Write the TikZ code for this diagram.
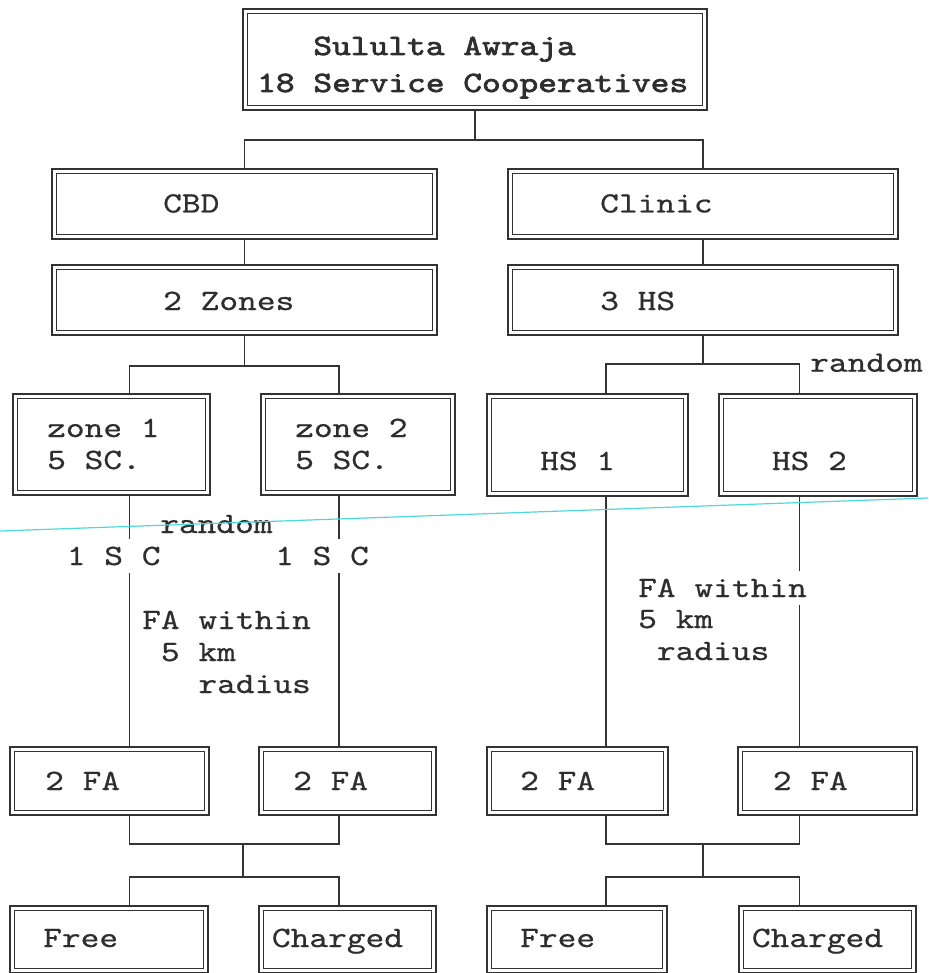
\documentclass[tikz,border=0pt]{standalone}
\usepackage{fontspec}
\newfontfamily\typer[FakeStretch=1.21,FakeBold=0.6]{lmmono10-regular.otf}
\newfontfamily\typerbold[FakeStretch=1.21,FakeBold=2.4]{lmmono10-regular.otf}
\definecolor{SCink}{HTML}{2E2E2E}
\definecolor{SCline}{HTML}{333333}
\definecolor{SCscan}{HTML}{4FD8DC}

\begin{document}
\begin{tikzpicture}[
  x=1pt,y=-1pt,
  font=\typer\fontsize{29.5}{32}\selectfont,
  text=SCink,
  box/.style={draw=SCline,line width=1.3pt,double,double distance=3.4pt,
    outer sep=3pt,inner sep=0pt},
  link/.style={draw=SCline,line width=1.3pt},
  txt/.style={anchor=base west,inner sep=0pt,align=left},
  cut/.style={txt,fill=white,inner ysep=8pt}
]

\useasboundingbox (0,0) rectangle (928,973);

% columns and bus heights
\coordinate (colA) at (129.5,0);
\coordinate (colB) at (339,0);
\coordinate (colC) at (606,0);
\coordinate (colD) at (799.5,0);
\coordinate (colM) at (243,0);
\coordinate (colN) at (703,0);
\coordinate (busTop) at (0,140);
\coordinate (busZone) at (0,366);
\coordinate (busHS) at (0,364);
\coordinate (busFA) at (0,844);
\coordinate (busFee) at (0,877);

% awraja (multi-line text: base = last line)
\node[box,minimum width=459.5,minimum height=96.5] (awraja) at (475,59.5) {};
\node[txt,font=\typerbold\fontsize{29.5}{37}\selectfont] (awrajatxt) at (257,92)
  {\phantom{000}Sululta Awraja\\18 Service Cooperatives};

% two branches
\node[box,minimum width=380.5,minimum height=65.5] (cbd) at (244.5,204) {};
\node[txt] (cbdtxt) at (163,212.5) {CBD};
\node[box,minimum width=385.5,minimum height=65.5] (clinic) at (703,204) {};
\node[txt] (clinictxt) at (600,212.5) {Clinic};
\node[box,minimum width=380.5,minimum height=65.5] (zones) at (244.5,300) {};
\node[txt] (zonestxt) at (163,310) {2 Zones};
\node[box,minimum width=385.5,minimum height=65.5] (hs) at (703,300) {};
\node[txt] (hstxt) at (600,310) {3 HS};

% zones and health stations
\node[box,minimum width=192.5,minimum height=96.5] (zone1) at (111.5,444.5) {};
\node[txt] (zone1txt) at (47,469) {zone 1\\5 SC.};
\node[box,minimum width=189.5,minimum height=96.5] (zone2) at (358,444.5) {};
\node[txt] (zone2txt) at (295,469) {zone 2\\5 SC.};
\node[box,minimum width=196.5,minimum height=97.5] (hs1) at (587.5,445) {};
\node[txt] (hs1txt) at (540,470) {HS 1};
\node[box,minimum width=193.5,minimum height=97.5] (hs2) at (818,445) {};
\node[txt] (hs2txt) at (771.7,470) {HS 2};

% farmer associations
\foreach \name/\cx/\bw/\tx in {fa1/109.5/194.5/45,fa2/347.5/172.5/293,
    fa3/577.5/176.5/520,fa4/827.5/174.5/772.7}{
  \node[box,minimum width=\bw,minimum height=63.5] (\name) at (\cx,781) {};
  \node[txt] (\name txt) at (\tx,790) {2 FA};
}

% free / charged
\foreach \name/\cx/\bw/\tx/\lbl in {free1/109/193.5/43/Free,
    charged1/347.5/172.5/271.7/Charged,free2/577/175.5/520/Free,
    charged2/827.5/172.5/751.7/Charged}{
  \node[box,minimum width=\bw,minimum height=62.5] (\name) at (\cx,939.5) {};
  \node[txt] (\name txt) at (\tx,947) {\lbl};
}

% connectors
\draw[link] (awraja.south) -- (awraja.south |- busTop);
\draw[link] (cbd.north) |- (clinic.north |- busTop) -- (clinic.north);
\draw[link] (cbd.south) -- (zones.north);
\draw[link] (clinic.south) -- (hs.north);
\draw[link] (zones.south) -- (zones.south |- busZone);
\draw[link] (zone1.north -| colA) |- (busZone -| colB) -- (zone2.north -| colB);
\draw[link] (hs.south) -- (hs.south |- busHS);
\draw[link] (hs1.north -| colC) |- (busHS -| colD) -- (hs2.north -| colD);

\draw[link] (zone1.south -| colA) -- (fa1.north -| colA);
\draw[link] (zone2.south -| colB) -- (fa2.north -| colB);
\draw[link] (hs1.south -| colC) -- (fa3.north -| colC);
\draw[link] (hs2.south -| colD) -- (fa4.north -| colD);

\draw[link] (fa1.south -| colA) |- (busFA -| colB) -- (fa2.south -| colB);
\draw[link] (busFA -| colM) -- (busFee -| colM);
\draw[link] (free1.north -| colA) |- (busFee -| colB) -- (charged1.north -| colB);
\draw[link] (fa3.south -| colC) |- (busFA -| colD) -- (fa4.south -| colD);
\draw[link] (busFA -| colN) -- (busFee -| colN);
\draw[link] (free2.north -| colC) |- (busFee -| colD) -- (charged2.north -| colD);

% sampling notes
\node[txt] (randomL) at (160,533) {random};
\node[cut] (scL) at (66.7,565) {1 S C};
\node[cut] (scR) at (275,565) {1 S C};
\node[txt] (radiusL) at (142,693) {FA within\\\phantom{0}5 km\\\phantom{000}radius};
\node[txt] (randomR) at (810,371.7) {random};
\node[cut] (withinR) at (638,597) {FA within};
\node[txt] (radiusR) at (638,660) {5 km\\\phantom{0}radius};

% scanner streak
\draw[SCscan,line width=1.2pt] (0,531) -- (928,498);

\end{tikzpicture}
\end{document}
